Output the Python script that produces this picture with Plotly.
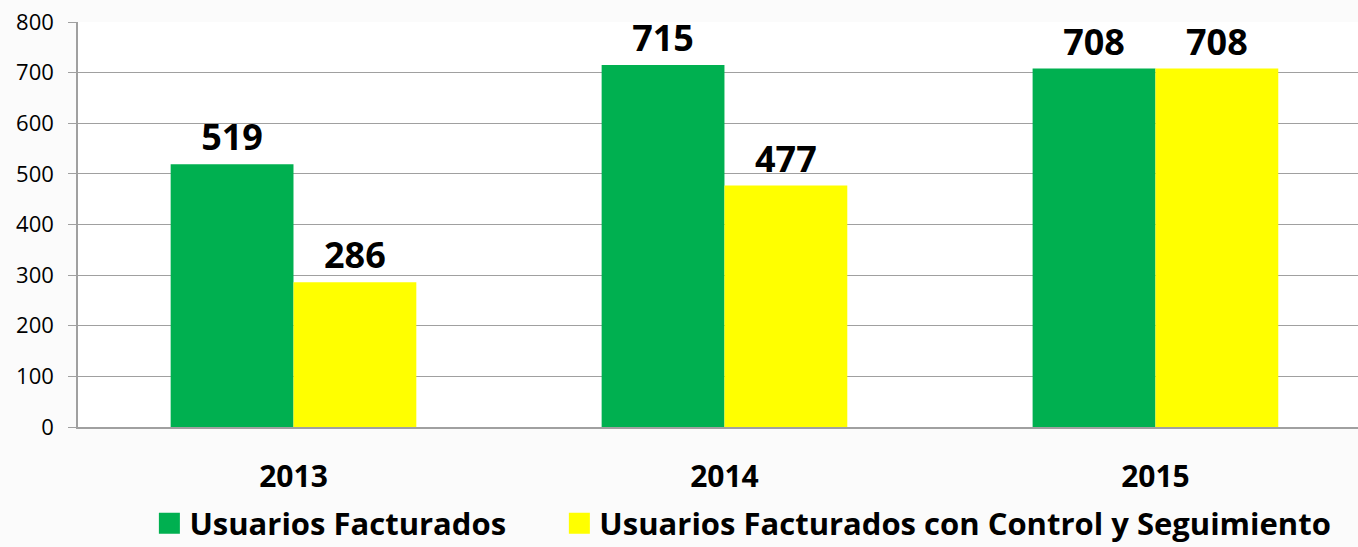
import plotly.graph_objects as go

years = ["2013", "2014", "2015"]
facturados = [519, 715, 708]
control = [286, 477, 708]
y_ticks = [0, 100, 200, 300, 400, 500, 600, 700, 800]
series_names = ["Usuarios Facturados", "Usuarios Facturados con Control y Seguimiento"]

GREEN = "#00B050"
YELLOW = "#FFFF00"
FONT = "Open Sans"
NBSP = "\u00a0"
label_font = dict(family=FONT, size=36, color="black", weight="bold")

fig = go.Figure()
for vals, color, name in [(facturados, GREEN, series_names[0]), (control, YELLOW, series_names[1])]:
    fig.add_trace(go.Bar(
        x=years, y=vals, name=name, legendgroup=name, showlegend=False,
        marker=dict(color=color, line=dict(width=0)),
        text=vals, textposition="outside", cliponaxis=False, textfont=label_font,
    ))

# legend-only entries (larger square symbols than the default bar swatch)
legend_labels = [series_names[0] + NBSP * 6, series_names[1]]
for color, name, label in [(GREEN, series_names[0], legend_labels[0]), (YELLOW, series_names[1], legend_labels[1])]:
    fig.add_trace(go.Scatter(
        x=[None], y=[None], mode="markers", name=label, legendgroup=name,
        marker=dict(symbol="square", size=16, color=color, line=dict(width=5, color=color)),
        hoverinfo="skip",
    ))

fig.update_layout(
    width=1358, height=547,
    margin=dict(l=78, r=0, t=22, b=120, autoexpand=False),
    paper_bgcolor="#FBFBFB", plot_bgcolor="white",
    barmode="group", bargap=0.43, bargroupgap=0,
    font=dict(family=FONT, color="black"),
    showlegend=True,
    legend=dict(
        orientation="h", xref="container", yref="paper",
        x=0.11, xanchor="left", y=-0.305, yanchor="bottom",
        font=dict(family=FONT, size=31, color="black", weight="bold"),
        bgcolor="rgba(0,0,0,0)", itemclick=False, itemdoubleclick=False,
        itemsizing="trace",
    ),
)
fig.update_xaxes(
    range=[-0.5, 2.47], showgrid=False, showline=True, linecolor="#A0A0A0",
    linewidth=1.5, ticks="", tickfont=dict(family=FONT, size=30, color="black", weight="bold"),
    ticklabelstandoff=22, fixedrange=True, automargin=False,
)
fig.update_yaxes(
    range=[0, 800], tickvals=y_ticks, showgrid=True, gridcolor="#A0A0A0", gridwidth=1.2,
    showline=True, linecolor="#A0A0A0", linewidth=1.5, ticks="outside", ticklen=8,
    tickcolor="#A0A0A0", tickfont=dict(family=FONT, size=22, color="black"),
    ticklabelstandoff=10, zeroline=False, fixedrange=True, automargin=False,
)

fig.write_html(
    "out.html",
    config={"displayModeBar": False},
    post_script="document.body.style.margin='0';document.body.style.overflow='hidden';",
)
